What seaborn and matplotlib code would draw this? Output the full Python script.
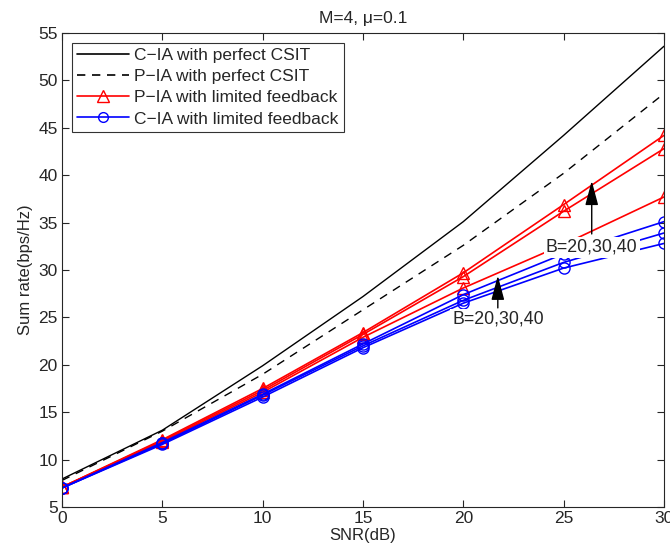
import matplotlib
matplotlib.use("Agg")
import matplotlib.pyplot as plt
import seaborn as sns
from matplotlib.lines import Line2D

snr = [0, 5, 10, 15, 20, 25, 30]

# perfect CSIT
cia_perfect = [7.95, 13.1, 19.9, 27.2, 35.1, 44.2, 53.6]
pia_perfect = [7.8, 13.0, 19.0, 25.8, 32.6, 40.2, 48.6]

# limited feedback, B = 40, 30, 20
pia_b40 = [7.1, 12.1, 17.5, 23.4, 29.7, 36.9, 44.2]
pia_b30 = [7.1, 12.0, 17.3, 23.2, 29.3, 36.2, 42.8]
pia_b20 = [7.1, 11.9, 17.1, 22.9, 28.1, 32.7, 37.7]

cia_b40 = [7.0, 11.8, 16.9, 22.2, 27.4, 31.7, 35.1]
cia_b30 = [7.0, 11.7, 16.8, 22.0, 26.8, 30.8, 33.9]
cia_b20 = [7.0, 11.6, 16.6, 21.8, 26.5, 30.2, 32.8]

sns.set_style("ticks")
plt.rcParams['font.family'] = ['Liberation Sans', 'DejaVu Sans']
plt.rcParams['xtick.direction'] = 'in'
plt.rcParams['ytick.direction'] = 'in'

fig = plt.figure(figsize=(6.7, 5.58), dpi=100)
ax = fig.add_axes([0.0925, 0.0914, 0.8985, 0.8495])

sns.lineplot(x=snr, y=cia_perfect, color='black', lw=1.0, ax=ax)
sns.lineplot(x=snr, y=pia_perfect, color='black', lw=1.0, ax=ax)
ax.lines[-1].set_dashes([6, 5])

for vals in [pia_b40, pia_b30, pia_b20]:
    sns.lineplot(x=snr, y=vals, color='red', lw=1.2, marker='^', markersize=9,
                 markerfacecolor='none', markeredgecolor='red', markeredgewidth=1.0, ax=ax)
for vals in [cia_b40, cia_b30, cia_b20]:
    sns.lineplot(x=snr, y=vals, color='blue', lw=1.2, marker='o', markersize=8,
                 markerfacecolor='none', markeredgecolor='blue', markeredgewidth=1.0, ax=ax)

ax.set_xlim(0, 30)
ax.set_ylim(5, 55)
ax.set_xticks(range(0, 31, 5))
ax.set_yticks(range(5, 56, 5))
ax.tick_params(top=True, right=True, labelsize=12.5, length=5, width=0.8, pad=3)
for s in ax.spines.values():
    s.set_linewidth(0.8)

ax.set_xlabel('SNR(dB)', fontsize=12, labelpad=1)
ax.set_ylabel('Sum rate(bps/Hz)', fontsize=12, labelpad=4)
ax.set_title('M=4, \u03bc=0.1', fontsize=12.5, pad=7)

box = dict(facecolor='white', edgecolor='none', pad=1.5)
ax.text(26.4, 32.4, 'B=20,30,40', fontsize=12.8, ha='center', va='center', bbox=box, zorder=5)
ax.text(21.75, 24.8, 'B=20,30,40', fontsize=12.8, ha='center', va='center', bbox=box, zorder=5)
arrow = dict(arrowstyle='-|>,head_length=0.75,head_width=0.2', color='black', lw=1.0,
             mutation_scale=20, shrinkA=0, shrinkB=0)
ax.annotate('', xy=(26.4, 39.4), xytext=(26.4, 33.8), arrowprops=arrow, zorder=6)
ax.annotate('', xy=(21.72, 29.4), xytext=(21.72, 26.0), arrowprops=arrow, zorder=6)

handles = [
    Line2D([], [], color='black', lw=1.2),
    Line2D([], [], color='black', lw=1.2, dashes=[5, 4]),
    Line2D([], [], color='red', lw=1.2, marker='^', markersize=8,
           markerfacecolor='none', markeredgecolor='red'),
    Line2D([], [], color='blue', lw=1.2, marker='o', markersize=7,
           markerfacecolor='none', markeredgecolor='blue'),
]
labels = ['C\u2212IA with perfect CSIT', 'P\u2212IA with perfect CSIT',
          'P\u2212IA with limited feedback', 'C\u2212IA with limited feedback']
leg = ax.legend(handles, labels, loc='upper left', fontsize=12.5, handlelength=3.0,
                frameon=True, fancybox=False, borderaxespad=0.55, labelspacing=0.35,
                handletextpad=0.3, borderpad=0.3)
leg.get_frame().set_edgecolor('black')
leg.get_frame().set_linewidth(0.8)

fig.savefig('out.png', dpi=100)
